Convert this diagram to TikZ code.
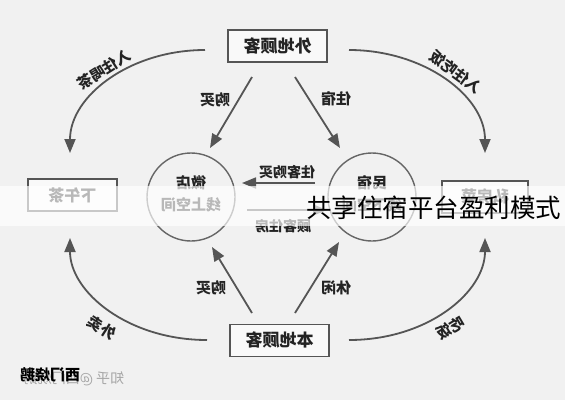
\documentclass[tikz,border=0pt]{standalone}
\usepackage{fontspec}
\usepackage{graphicx}
\setmainfont{Noto Sans CJK SC}
\usetikzlibrary{arrows.meta}
\definecolor{bg}{RGB}{241,241,241}
\definecolor{ln}{RGB}{85,85,85}
\definecolor{tx}{RGB}{35,35,35}
\newcommand{\mr}[1]{\reflectbox{#1}}
\tikzset{
  boxnode/.style={draw=ln, line width=1.3pt, fill=white!60!bg, minimum width=99pt, minimum height=32pt, inner sep=0pt, font=\fontsize{17}{17}\selectfont\bfseries, text=tx},
  circnode/.style={circle, draw=ln!90, line width=1.4pt, minimum size=88pt, inner sep=0pt},
  circtext/.style={align=center, inner sep=0pt, font=\fontsize{15}{22}\selectfont\bfseries, text=tx},
  lbl/.style={font=\fontsize{15}{15}\selectfont\bfseries, text=tx, inner sep=0pt},
  arr/.style={draw=ln, line width=1.8pt, -{Triangle[length=14pt,width=11pt]}}
}
\begin{document}
\begin{tikzpicture}[x=1pt,y=-1pt]
\useasboundingbox (0,0) rectangle (565,400);
\fill[bg] (0,0) rectangle (565,400);

% boxes
\node[boxnode] (top) at (277.5,46) {\mr{外地顾客}};
\node[boxnode] (bot) at (279.5,340.5) {\mr{本地顾客}};
\node[boxnode, minimum width=89pt, font=\fontsize{16}{16}\selectfont\bfseries] (left) at (72.5,195) {\mr{下午茶}};
\node[boxnode, minimum width=86pt, font=\fontsize{16}{16}\selectfont\bfseries] (right) at (485,197) {\mr{私房菜}};

% circles
\node[circnode] (lc) at (191,197) {};
\node[circnode] (rc) at (372,197) {};
\node[circtext] (lct) at (191,194) {\mr{微店}\\\mr{线上空间}};
\node[circtext] (rct) at (372,194) {\mr{民宿}\\\mr{线下空间}};

% straight arrows
\coordinate (s1) at (252,77);  \coordinate (e1) at (210,148);
\coordinate (s2) at (295,77);  \coordinate (e2) at (340,148);
\coordinate (s3) at (252,313); \coordinate (e3) at (212,247);
\coordinate (s4) at (295,313); \coordinate (e4) at (339,242);
\coordinate (s5) at (315,183); \coordinate (e5) at (242,183);
\coordinate (s6) at (247,210); \coordinate (e6) at (327,210);
\draw[arr] (s1) -- (e1);
\draw[arr] (s2) -- (e2);
\draw[arr] (s3) -- (e3);
\draw[arr] (s4) -- (e4);
\draw[arr] (s5) -- (e5);
\draw[arr] (s6) -- (e6);

% curved arrows
\coordinate (c1s) at (205,50);  \coordinate (c1e) at (70,153);
\coordinate (c2s) at (349,50);  \coordinate (c2e) at (485,153);
\coordinate (c3s) at (207,340); \coordinate (c3e) at (70,238);
\coordinate (c4s) at (349,340); \coordinate (c4e) at (485,238);
\draw[arr] (c1s) .. controls (130,50) and (70,96) .. (c1e);
\draw[arr] (c2s) .. controls (424,50) and (485,96) .. (c2e);
\draw[arr] (c3s) .. controls (128,340) and (70,292) .. (c3e);
\draw[arr] (c4s) .. controls (428,340) and (485,292) .. (c4e);

% labels
\node[lbl] (l1) at (215,100) {\mr{购买}};
\node[lbl] (l2) at (336,99) {\mr{住宿}};
\node[lbl] (l3) at (211,288) {\mr{购买}};
\node[lbl] (l4) at (336,288) {\mr{休闲}};
\node[lbl, font=\fontsize{14}{14}\selectfont\bfseries] (l5) at (287,172) {\mr{住客购买}};
\node[lbl, font=\fontsize{14}{14}\selectfont\bfseries] (l6) at (283,226) {\mr{顾客住房}};
\node[lbl, rotate=32] (l7) at (104,70) {\mr{入住喝茶}};
\node[lbl, rotate=-36] (l8) at (456,72) {\mr{入住吃饭}};
\node[lbl, rotate=-33] (l9) at (102,328) {\mr{外卖}};
\node[lbl, rotate=31] (l10) at (451,328) {\mr{吃饭}};

% watermark
\node[lbl, text=gray!70, font=\fontsize{14}{14}\selectfont] (w2) at (74,379) {\mr{知乎 @西门烧鹅}};
\node[lbl, text=black, font=\fontsize{15}{15}\selectfont\bfseries] (w1) at (50,375) {\mr{西门烧鹅}};

% white band and title
\fill[white, opacity=0.68] (0,186) rectangle (565,226);
\node[inner sep=0pt, font=\fontsize{25.5}{25.5}\selectfont, text=black] (title) at (433.5,208) {共享住宿平台盈利模式};
\end{tikzpicture}
\end{document}
